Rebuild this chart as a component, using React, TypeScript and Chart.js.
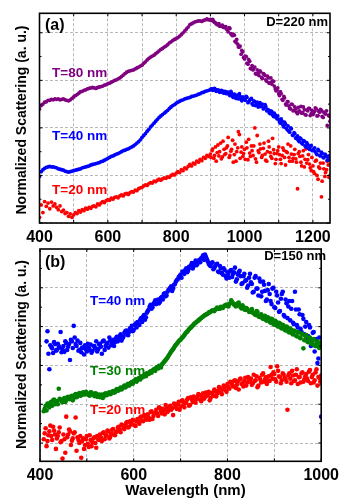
import React, { useEffect, useRef } from "react";
import { Chart, registerables } from "chart.js";
Chart.register(...registerables);

const FONT = "'Liberation Sans', Arial, Helvetica, sans-serif";
const GRID = "#b8b8b8";

// ---------- Panel (a): D = 220 nm ----------
const WL_A = [
  400, 405, 410, 415, 420, 425, 430, 435, 440, 445,
  450, 455, 460, 465, 470, 475, 480, 485, 490, 495,
  500, 505, 510, 515, 520, 525, 530, 535, 540, 545,
  550, 555, 560, 565, 570, 575, 580, 585, 590, 595,
  600, 605, 610, 615, 620, 625, 630, 635, 640, 645,
  650, 655, 660, 665, 670, 675, 680, 685, 690, 695,
  700, 705, 710, 715, 720, 725, 730, 735, 740, 745,
  750, 755, 760, 765, 770, 775, 780, 785, 790, 795,
  800, 805, 810, 815, 820, 825, 830, 835, 840, 845,
  850, 855, 860, 865, 870, 875, 880, 885, 890, 895,
  900, 905, 910, 915, 920, 925, 930, 935, 940, 945,
  950, 955, 960, 965, 970, 975, 980, 985, 990, 995,
  1000, 1005, 1010, 1015, 1020, 1025, 1030, 1035, 1040, 1045,
  1050, 1055, 1060, 1065, 1070, 1075, 1080, 1085, 1090, 1095,
  1100, 1105, 1110, 1115, 1120, 1125, 1130, 1135, 1140, 1145,
  1150, 1155, 1160, 1165, 1170, 1175, 1180, 1185, 1190, 1195,
  1200, 1205, 1210, 1215, 1220, 1225, 1230, 1235, 1240, 1245,
  1250,
];
const A_T80 = [
  2.40, 2.47, 2.50, 2.54, 2.55, 2.58, 2.58, 2.60, 2.59, 2.61,
  2.60, 2.61, 2.59, 2.60, 2.61, 2.59, 2.58, 2.57, 2.59, 2.62,
  2.65, 2.68, 2.70, 2.73, 2.76, 2.77, 2.79, 2.80, 2.82, 2.83,
  2.84, 2.85, 2.84, 2.83, 2.85, 2.86, 2.87, 2.88, 2.90, 2.91,
  2.93, 2.94, 2.96, 2.98, 3.00, 3.01, 3.03, 3.05, 3.08, 3.11,
  3.14, 3.17, 3.19, 3.20, 3.21, 3.22, 3.24, 3.26, 3.28, 3.30,
  3.32, 3.36, 3.39, 3.43, 3.46, 3.49, 3.51, 3.53, 3.56, 3.59,
  3.62, 3.65, 3.67, 3.70, 3.72, 3.75, 3.79, 3.81, 3.84, 3.86,
  3.88, 3.90, 3.93, 3.96, 4.00, 4.04, 4.08, 4.12, 4.17, 4.19,
  4.21, 4.23, 4.24, 4.25, 4.25, 4.24, 4.26, 4.27, 4.29, 4.27,
  4.28, 4.26, 4.24, 4.21, 4.17, 4.19, 4.14, 4.16, 4.11, 4.13,
  4.06, 4.11, 3.98, 3.94, 3.95, 3.80, 3.76, 3.70, 3.55, 3.60,
  3.45, 3.50, 3.34, 3.40, 3.24, 3.22, 3.28, 3.13, 3.16, 3.20,
  3.06, 3.14, 3.10, 2.98, 3.05, 2.95, 2.92, 2.98, 2.82, 2.79,
  2.72, 2.76, 2.60, 2.66, 2.50, 2.55, 2.46, 2.40, 2.49, 2.37,
  2.40, 2.30, 2.36, 2.45, 2.32, 2.38, 2.27, 2.36, 2.41, 2.30,
  2.28, 2.35, 2.40, 2.26, 2.33, 2.37, 2.22, 2.31, 2.36, 2.27,
  2.14,
];
const A_T40 = [
  0.98, 1.08, 1.12, 1.15, 1.17, 1.18, 1.19, 1.18, 1.18, 1.17,
  1.16, 1.14, 1.13, 1.12, 1.11, 1.09, 1.08, 1.07, 1.08, 1.09,
  1.10, 1.11, 1.12, 1.13, 1.14, 1.16, 1.17, 1.18, 1.19, 1.20,
  1.22, 1.23, 1.24, 1.25, 1.26, 1.27, 1.29, 1.30, 1.32, 1.34,
  1.36, 1.38, 1.40, 1.41, 1.43, 1.45, 1.46, 1.48, 1.50, 1.52,
  1.53, 1.55, 1.56, 1.58, 1.60, 1.62, 1.65, 1.68, 1.71, 1.75,
  1.80, 1.84, 1.88, 1.93, 1.97, 2.02, 2.06, 2.10, 2.14, 2.18,
  2.22, 2.25, 2.28, 2.31, 2.34, 2.37, 2.41, 2.44, 2.47, 2.49,
  2.52, 2.54, 2.56, 2.58, 2.59, 2.61, 2.62, 2.63, 2.64, 2.66,
  2.67, 2.68, 2.69, 2.71, 2.72, 2.74, 2.75, 2.77, 2.78, 2.79,
  2.80, 2.82, 2.80, 2.81, 2.78, 2.79, 2.76, 2.78, 2.73, 2.76,
  2.74, 2.70, 2.77, 2.66, 2.71, 2.62, 2.69, 2.72, 2.60, 2.65,
  2.60, 2.66, 2.53, 2.58, 2.62, 2.48, 2.55, 2.50, 2.44, 2.53,
  2.46, 2.40, 2.49, 2.36, 2.38, 2.30, 2.34, 2.24, 2.27, 2.19,
  2.18, 2.10, 2.14, 2.02, 2.08, 1.96, 1.93, 2.00, 1.85, 1.90,
  1.78, 1.83, 1.71, 1.77, 1.66, 1.72, 1.60, 1.65, 1.55, 1.63,
  1.52, 1.58, 1.46, 1.55, 1.42, 1.49, 1.38, 1.45, 1.40, 1.33,
  1.36,
];
const A_T20 = [
  0.12, 0.38, 0.22, 0.45, 0.35, 0.42, 0.30, 0.44, 0.36, 0.40,
  0.33, 0.28, 0.36, 0.24, 0.27, 0.20, 0.22, 0.14, 0.19, 0.12,
  0.17, 0.22, 0.20, 0.26, 0.23, 0.28, 0.26, 0.31, 0.29, 0.33,
  0.31, 0.35, 0.36, 0.34, 0.40, 0.38, 0.42, 0.45, 0.43, 0.47,
  0.49, 0.48, 0.52, 0.50, 0.54, 0.55, 0.53, 0.57, 0.59, 0.57,
  0.61, 0.62, 0.60, 0.64, 0.66, 0.65, 0.69, 0.68, 0.72, 0.74,
  0.75, 0.78, 0.80, 0.79, 0.83, 0.85, 0.84, 0.88, 0.87, 0.90,
  0.92, 0.90, 0.93, 0.95, 0.94, 0.97, 0.96, 1.00, 1.02, 1.01,
  1.05, 1.08, 1.06, 1.12, 1.10, 1.16, 1.14, 1.19, 1.23, 1.20,
  1.26, 1.24, 1.30, 1.28, 1.34, 1.31, 1.38, 1.36, 1.42, 1.40,
  1.45, 1.52, 1.36, 1.60, 1.48, 1.41, 1.68, 1.39, 1.55, 1.46,
  1.62, 1.38, 1.51, 1.74, 1.44, 1.30, 1.58, 1.86, 1.49, 1.40,
  1.55, 1.70, 1.33, 1.47, 1.62, 1.42, 2.00, 1.28, 1.52, 1.66,
  1.38, 1.57, 1.45, 1.30, 1.72, 1.48, 1.36, 1.54, 1.25, 1.46,
  1.60, 1.34, 1.42, 1.53, 1.22, 1.48, 1.38, 1.62, 1.30, 1.44,
  1.35, 0.72, 1.50, 1.28, 1.41, 1.18, 1.56, 1.33, 1.24, 1.10,
  1.20, 1.04, 1.32, 0.92, 1.15, 0.55, 1.26, 0.98, 1.12, 1.22,
  1.00,
];
// second, interleaved read of the noisy long-wavelength part of panel (a)
const WL_A2 = [
  902, 907, 912, 917, 922, 927, 932, 937, 942, 947,
  952, 957, 962, 967, 972, 977, 982, 987, 992, 997,
  1002, 1007, 1012, 1017, 1022, 1027, 1032, 1037, 1042, 1047,
  1052, 1057, 1062, 1067, 1072, 1077, 1082, 1087, 1092, 1097,
  1102, 1107, 1112, 1117, 1122, 1127, 1132, 1137, 1142, 1147,
  1152, 1157, 1162, 1167, 1172, 1177, 1182, 1187, 1192, 1197,
  1202, 1207, 1212, 1217, 1222, 1227, 1232, 1237, 1242, 1247,
];
const A_T80_2 = [
  4.26, 4.28, 4.22, 4.19, 4.18, 4.14, 4.15, 4.12, 4.13, 4.08,
  4.02, 4.09, 3.96, 3.97, 3.82, 3.86, 3.70, 3.72, 3.63, 3.48,
  3.51, 3.36, 3.44, 3.25, 3.31, 3.26, 3.14, 3.22, 3.10, 3.18,
  3.04, 3.13, 3.01, 3.09, 2.94, 3.05, 2.99, 2.88, 2.78, 2.84,
  2.68, 2.72, 2.58, 2.63, 2.48, 2.55, 2.41, 2.50, 2.36, 2.44,
  2.33, 2.43, 2.34, 2.31, 2.44, 2.28, 2.38, 2.41, 2.26, 2.37,
  2.30, 2.42, 2.25, 2.35, 2.39, 2.24, 2.33, 2.29, 2.05, 2.25,
];
const A_T40_2 = [
  2.82, 2.79, 2.83, 2.77, 2.80, 2.75, 2.79, 2.74, 2.77, 2.72,
  2.75, 2.68, 2.73, 2.64, 2.70, 2.67, 2.61, 2.66, 2.57, 2.63,
  2.58, 2.64, 2.55, 2.60, 2.51, 2.57, 2.47, 2.54, 2.49, 2.45,
  2.50, 2.42, 2.45, 2.39, 2.32, 2.36, 2.27, 2.31, 2.22, 2.25,
  2.13, 2.19, 2.06, 2.12, 1.99, 2.04, 1.91, 1.98, 1.84, 1.88,
  1.80, 1.74, 1.79, 1.68, 1.73, 1.62, 1.69, 1.57, 1.61, 1.53,
  1.56, 1.50, 1.44, 1.52, 1.41, 1.46, 1.37, 1.43, 1.32, 1.41,
];
const A_T20_2 = [
  1.38, 1.56, 1.42, 1.30, 1.64, 1.50, 1.35, 1.72, 1.44, 1.58,
  1.80, 1.42, 1.55, 1.28, 1.66, 1.50, 1.92, 1.36, 1.60, 1.46,
  1.34, 1.58, 1.76, 1.40, 1.52, 1.62, 1.35, 1.84, 1.48, 1.56,
  1.42, 1.68, 1.32, 1.50, 1.60, 1.40, 1.78, 1.46, 1.34, 1.52,
  1.44, 1.25, 1.58, 1.38, 1.50, 1.66, 1.30, 1.45, 1.36, 1.55,
  1.28, 1.46, 1.40, 1.20, 1.52, 1.34, 1.26, 1.44, 1.16, 1.38,
  1.08, 1.30, 1.00, 1.18, 1.26, 0.88, 1.14, 1.06, 1.30, 0.96,
];
const XTICKS_A = [400, 500, 600, 700, 800, 900, 1000, 1100, 1200];
const XLABELS_A = [400, 600, 800, 1000, 1200];
const YTICKS_A = [0, 1, 2, 3, 4];

// ---------- Panel (b): D = 150 nm ----------
const WL_B = [
  408, 412, 416, 420, 424, 428, 432, 436, 440, 444,
  448, 452, 456, 460, 464, 468, 472, 476, 480, 484,
  488, 492, 496, 500, 504, 508, 512, 516, 520, 524,
  528, 532, 536, 540, 544, 548, 552, 556, 560, 564,
  568, 572, 576, 580, 584, 588, 592, 596, 600, 604,
  608, 612, 616, 620, 624, 628, 632, 636, 640, 644,
  648, 652, 656, 660, 664, 668, 672, 676, 680, 684,
  688, 692, 696, 700, 704, 708, 712, 716, 720, 724,
  728, 732, 736, 740, 744, 748, 752, 756, 760, 764,
  768, 772, 776, 780, 784, 788, 792, 796, 800, 804,
  808, 812, 816, 820, 824, 828, 832, 836, 840, 844,
  848, 852, 856, 860, 864, 868, 872, 876, 880, 884,
  888, 892, 896, 900, 904, 908, 912, 916, 920, 924,
  928, 932, 936, 940, 944, 948, 952, 956, 960, 964,
  968, 972, 976, 980, 984, 988, 992, 996, 1000,
];
const B_T40 = [
  null, null, 2.88, 1.90, 2.48, 2.32, 2.55, 2.40, 2.50, 2.86,
  2.42, 2.35, 2.58, 2.48, 2.14, 2.62, 3.02, 2.55, 2.64, 2.40,
  2.34, 2.45, 2.52, 2.36, 2.46, 2.54, 2.38, 2.50, 2.62, 2.42,
  2.56, 2.30, 2.64, 2.50, 2.58, 2.72, 2.52, 2.66, 2.60, 2.74,
  2.68, 2.80, 2.70, 2.84, 2.90, 2.78, 2.96, 3.02, 2.92, 3.08,
  3.12, 3.04, 3.22, 3.26, 3.18, 3.36, 3.44, 3.56, 3.50, 3.62,
  3.58, 3.70, 3.64, 3.76, 3.84, 3.78, 3.90, 3.96, 4.04, 3.98,
  4.10, 4.20, 4.28, 4.34, 4.42, 4.36, 4.50, 4.44, 4.52, 4.64,
  4.56, 4.70, 4.62, 4.72, 4.76, 4.84, 4.86, 4.74, 4.62, 4.56,
  4.66, 4.52, 4.60, 4.42, 4.56, 4.38, 4.50, 4.30, 4.40, 4.26,
  4.46, 4.36, 4.52, 4.22, 4.40, 4.30, 4.12, 4.36, 4.20, 4.06,
  4.36, 4.10, 3.90, 4.30, 3.98, 4.24, 3.78, 4.16, 3.92, 3.70,
  4.10, 3.66, 3.98, 3.50, 3.90, 3.62, 3.40, 3.84, 3.30, 3.70,
  3.22, 3.66, 3.46, 3.10, 3.90, 3.04, 3.44, 2.94, 3.30, 2.80,
  3.12, 2.76, 2.98, 2.62, 2.86, 2.50, 2.06, 2.72, 0.68,
];
const B_T30 = [
  0.82, 0.96, 1.02, 0.92, 1.06, 1.10, 1.00, 1.08, 1.40, 1.12,
  1.05, 1.16, 1.10, 1.19, 1.13, 1.22, 1.16, 1.26, 1.20, 1.29,
  1.23, 1.31, 1.26, 1.29, 1.24, 1.31, 1.26, 1.21, 1.27, 1.22,
  1.18, 1.25, 1.20, 1.28, 1.25, 1.31, 1.28, 1.34, 1.31, 1.39,
  1.36, 1.43, 1.41, 1.48, 1.46, 1.53, 1.51, 1.57, 1.59, 1.64,
  1.62, 1.68, 1.72, 1.70, 1.77, 1.80, 1.78, 1.85, 1.87, 1.91,
  1.94, 1.92, 1.98, 2.02, 2.08, 2.14, 2.20, 2.28, 2.36, 2.42,
  2.50, 2.56, 2.62, 2.66, 2.72, 2.78, 2.85, 2.90, 2.96, 3.00,
  3.06, 3.10, 3.14, 3.18, 3.22, 3.26, 3.30, 3.32, 3.36, 3.38,
  3.42, 3.40, 3.45, 3.47, 3.46, 3.50, 3.52, 3.55, 3.53, 3.58,
  3.68, 3.60, 3.55, 3.58, 3.62, 3.50, 3.55, 3.45, 3.48, 3.42,
  3.38, 3.45, 3.35, 3.30, 3.38, 3.25, 3.32, 3.20, 3.28, 3.15,
  3.22, 3.10, 3.18, 3.05, 3.12, 3.00, 3.08, 2.95, 3.02, 2.90,
  2.98, 2.85, 2.92, 2.80, 2.88, 2.75, 2.85, 2.70, 2.80, 2.65,
  2.78, 2.60, 2.72, 2.55, 2.68, 2.50, 2.62, 2.45, 2.60,
];
const B_T20 = [
  0.10, 0.38, 0.05, 0.30, 0.18, 0.42, 0.22, 0.12, 0.28, 0.02,
  -0.40, 0.10, 0.68, 0.22, 0.30, 0.06, 0.25, 0.66, 0.15, 0.00,
  -0.38, 0.12, -0.05, 0.18, -0.10, 0.08, 0.02, 0.15, -0.12, 0.10,
  0.22, 0.05, 0.28, 0.18, 0.32, 0.12, 0.24, 0.36, 0.20, 0.30,
  0.42, 0.28, 0.46, 0.36, 0.52, 0.40, 0.56, 0.48, 0.58, 0.44,
  0.62, 0.50, 0.68, 0.56, 0.72, 0.60, 0.66, 0.80, 0.62, 0.76,
  0.86, 0.70, 0.90, 0.76, 0.84, 0.98, 0.80, 0.94, 0.86, 0.72,
  1.00, 0.88, 1.06, 0.94, 1.10, 0.92, 1.04, 1.16, 0.98, 1.12,
  1.20, 1.04, 1.14, 1.24, 1.08, 1.28, 1.18, 1.22, 1.32, 1.16,
  1.30, 1.38, 1.20, 1.34, 1.42, 1.26, 1.48, 1.36, 1.52, 1.40,
  1.56, 1.46, 1.62, 1.50, 1.38, 1.66, 1.54, 1.60, 1.48, 1.70,
  1.58, 1.50, 1.76, 1.62, 1.44, 1.68, 1.56, 1.80, 1.64, 1.52,
  1.72, 1.96, 1.66, 1.78, 1.58, 1.86, 1.70, 1.62, 1.76, 1.66,
  0.86, 1.80, 1.54, 1.74, 1.62, 1.90, 1.70, 1.56, 1.82, 1.64,
  1.78, 1.60, 1.88, 1.70, 1.56, 1.82, 1.48, 1.68, 1.74,
];
// second, interleaved read of panel (b)
const WL_B2 = [
  410, 414, 418, 422, 426, 430, 434, 438, 442, 446,
  450, 454, 458, 462, 466, 470, 474, 478, 482, 486,
  490, 494, 498, 502, 506, 510, 514, 518, 522, 526,
  530, 534, 538, 542, 546, 550, 554, 558, 562, 566,
  570, 574, 578, 582, 586, 590, 594, 598, 602, 606,
  610, 614, 618, 622, 626, 630, 634, 638, 642, 646,
  650, 654, 658, 662, 666, 670, 674, 678, 682, 686,
  690, 694, 698, 702, 706, 710, 714, 718, 722, 726,
  730, 734, 738, 742, 746, 750, 754, 758, 762, 766,
  770, 774, 778, 782, 786, 790, 794, 798, 802, 806,
  810, 814, 818, 822, 826, 830, 834, 838, 842, 846,
  850, 854, 858, 862, 866, 870, 874, 878, 882, 886,
  890, 894, 898, 902, 906, 910, 914, 918, 922, 926,
  930, 934, 938, 942, 946, 950, 954, 958, 962, 966,
  970, 974, 978, 982, 986, 990, 994, 998,
];
const B_T40_2 = [
  null, 2.62, 2.30, 2.52, 2.44, 2.60, 2.38, 2.56, 2.46, 2.34,
  2.50, 2.62, 2.40, 2.55, 2.66, 2.45, 2.72, 2.50, 2.38, 2.58,
  2.46, 2.28, 2.42, 2.56, 2.40, 2.33, 2.50, 2.44, 2.36, 2.54,
  2.48, 2.62, 2.40, 2.56, 2.46, 2.64, 2.58, 2.50, 2.70, 2.62,
  2.76, 2.64, 2.74, 2.88, 2.80, 2.86, 2.94, 2.88, 3.04, 2.98,
  3.06, 3.18, 3.12, 3.30, 3.24, 3.40, 3.52, 3.46, 3.58, 3.68,
  3.66, 3.60, 3.74, 3.70, 3.86, 3.80, 3.94, 4.00, 3.92, 4.08,
  4.16, 4.22, 4.30, 4.26, 4.38, 4.46, 4.40, 4.54, 4.58, 4.50,
  4.64, 4.58, 4.68, 4.66, 4.78, 4.72, 4.80, 4.68, 4.58, 4.64,
  4.48, 4.56, 4.62, 4.40, 4.50, 4.34, 4.46, 4.24, 4.36, 4.44,
  4.28, 4.40, 4.16, 4.34, 4.44, 4.10, 4.30, 4.18, 4.00, 4.26,
  4.14, 3.88, 4.26, 3.98, 3.80, 4.16, 3.90, 4.08, 3.66, 3.94,
  3.84, 3.58, 4.00, 3.48, 3.80, 3.38, 3.72, 3.90, 3.26, 3.60,
  3.52, 3.16, 3.66, 3.06, 3.44, 2.98, 3.32, 2.86, 3.20, 3.00,
  2.66, 3.04, 2.50, 2.84, 2.36, 2.68, 2.18, 2.48,
];
const B_T30_2 = [
  0.88, 0.84, 0.98, 1.04, 0.96, 1.12, 1.06, 1.00, 1.14, 1.08,
  1.12, 1.06, 1.18, 1.14, 1.20, 1.10, 1.24, 1.18, 1.26, 1.22,
  1.28, 1.25, 1.32, 1.27, 1.22, 1.30, 1.24, 1.28, 1.19, 1.25,
  1.22, 1.16, 1.26, 1.23, 1.29, 1.26, 1.32, 1.30, 1.36, 1.35,
  1.40, 1.38, 1.45, 1.43, 1.50, 1.48, 1.55, 1.53, 1.61, 1.58,
  1.66, 1.64, 1.70, 1.74, 1.72, 1.79, 1.83, 1.81, 1.89, 1.86,
  1.96, 1.99, 1.95, 2.05, 2.11, 2.17, 2.24, 2.32, 2.39, 2.46,
  2.53, 2.59, 2.65, 2.70, 2.75, 2.82, 2.87, 2.93, 2.98, 3.03,
  3.08, 3.12, 3.16, 3.20, 3.24, 3.28, 3.31, 3.34, 3.37, 3.40,
  3.41, 3.44, 3.49, 3.46, 3.51, 3.48, 3.54, 3.57, 3.52, 3.60,
  3.63, 3.57, 3.52, 3.60, 3.54, 3.47, 3.51, 3.43, 3.46, 3.38,
  3.41, 3.36, 3.32, 3.40, 3.27, 3.30, 3.22, 3.26, 3.17, 3.24,
  3.13, 3.20, 3.07, 3.15, 3.02, 3.10, 2.97, 3.05, 2.92, 3.00,
  2.87, 2.95, 2.82, 2.90, 2.77, 2.86, 2.72, 2.82, 2.44, 2.76,
  2.62, 2.70, 2.57, 2.65, 2.52, 2.58, 2.48, 2.55,
];
const B_T20_2 = [
  0.25, -0.08, 0.20, 0.45, 0.08, 0.32, -0.15, 0.18, 0.40, 0.05,
  0.22, -0.25, 0.15, 0.35, -0.05, 0.12, 0.28, -0.20, 0.08, 0.18,
  0.05, -0.15, 0.10, -0.02, 0.20, -0.08, 0.12, 0.00, 0.18, 0.08,
  0.14, 0.26, 0.10, 0.20, 0.30, 0.16, 0.34, 0.22, 0.28, 0.40,
  0.34, 0.48, 0.38, 0.44, 0.54, 0.42, 0.50, 0.60, 0.46, 0.56,
  0.54, 0.66, 0.58, 0.70, 0.64, 0.74, 0.60, 0.82, 0.70, 0.78,
  0.76, 0.92, 0.82, 0.88, 0.74, 0.90, 0.84, 0.96, 0.90, 1.02,
  0.92, 1.00, 0.86, 1.08, 0.98, 1.04, 1.12, 0.96, 1.18, 1.06,
  1.10, 1.18, 1.26, 1.12, 1.20, 1.14, 1.30, 1.24, 1.10, 1.28,
  1.22, 1.34, 1.28, 1.44, 1.30, 1.38, 1.46, 1.32, 1.44, 1.58,
  1.50, 1.60, 1.42, 1.58, 1.64, 1.52, 1.46, 1.68, 1.56, 1.62,
  1.66, 1.54, 1.60, 1.72, 1.48, 1.64, 1.76, 1.58, 1.70, 1.62,
  1.60, 1.76, 1.82, 1.64, 1.98, 1.72, 1.54, 1.80, 1.68, 1.58,
  1.74, 1.66, 1.86, 1.60, 1.76, 1.52, 1.70, 1.80, 1.58, 1.72,
  1.66, 1.84, 1.54, 1.76, 1.62, 1.90, 1.70, 1.58,
];
const XTICKS_B = [400, 500, 600, 700, 800, 900, 1000];
const XLABELS_B = [400, 600, 800, 1000];
const YTICKS_B = [0, 1, 2, 3, 4];

const C_PURPLE = "#800080";
const C_BLUE = "#0000ff";
const C_RED = "#ff0000";
const C_GREEN = "#008000";

type Txt = { text: string; x: number; y: number; color: string; size: number; align: CanvasTextAlign; rot?: boolean };

function pts(xs: number[], ys: (number | null)[]) {
  const out: { x: number; y: number }[] = [];
  xs.forEach((x, i) => {
    const y = ys[i];
    if (y !== null && y !== undefined) out.push({ x, y });
  });
  return out;
}

const decoPlugin = {
  id: "deco",
  afterDraw(chart: any, _args: any, opts: any) {
    const { ctx, chartArea } = chart;
    const { left, right, top, bottom } = chartArea;
    const xs = chart.scales.x;
    const ys = chart.scales.y;
    ctx.save();
    ctx.strokeStyle = "#000";
    ctx.lineWidth = 1;
    ctx.beginPath();
    (opts.xTicks as number[]).forEach((v) => {
      const px = xs.getPixelForValue(v);
      ctx.moveTo(px, bottom);
      ctx.lineTo(px, bottom - 3);
      ctx.moveTo(px, top);
      ctx.lineTo(px, top + 3);
    });
    (opts.yTicks as number[]).forEach((v) => {
      [v, v + 0.5].forEach((w, k) => {
        const py = ys.getPixelForValue(w);
        if (py < top - 0.5 || py > bottom + 0.5) return;
        const len = k === 0 ? 3 : 2;
        ctx.moveTo(left, py);
        ctx.lineTo(left + len, py);
        ctx.moveTo(right, py);
        ctx.lineTo(right - len, py);
      });
    });
    ctx.stroke();
    ctx.lineWidth = 1.6;
    ctx.strokeRect(left, top, right - left, bottom - top);
    (opts.texts as Txt[]).forEach((t) => {
      ctx.save();
      ctx.font = `bold ${t.size}px ${FONT}`;
      ctx.fillStyle = t.color;
      ctx.textAlign = t.align;
      ctx.textBaseline = "middle";
      ctx.translate(t.x, t.y);
      if (t.rot) ctx.rotate(-Math.PI / 2);
      ctx.fillText(t.text, 0, 0);
      ctx.restore();
    });
    ctx.restore();
  },
};

function makeConfig(p: {
  datasets: any[];
  xMin: number; xMax: number; yMin: number; yMax: number;
  xTicks: number[]; xLabels: number[]; yTicks: number[];
  yWidth: number; xHeight: number; padTop: number; padRight: number; labelPad: number;
  texts: Txt[];
}) {
  return {
    type: "scatter" as const,
    data: { datasets: p.datasets },
    options: {
      animation: false as const,
      responsive: false,
      devicePixelRatio: 1,
      events: [],
      layout: { padding: { top: p.padTop, right: p.padRight, left: 0, bottom: 0 } },
      plugins: {
        legend: { display: false },
        tooltip: { enabled: false },
        deco: { xTicks: p.xTicks, yTicks: p.yTicks, texts: p.texts },
      },
      scales: {
        x: {
          type: "linear",
          min: p.xMin,
          max: p.xMax,
          afterBuildTicks: (s: any) => { s.ticks = p.xTicks.map((v) => ({ value: v })); },
          afterFit: (s: any) => { s.height = p.xHeight; },
          grid: { drawTicks: false, color: GRID, lineWidth: 1 },
          border: { display: false, dash: [3, 2] },
          ticks: {
            autoSkip: false,
            maxRotation: 0,
            padding: p.labelPad,
            color: "#000",
            font: { family: FONT, size: 16, weight: "bold" },
            callback: (v: any) => (p.xLabels.includes(Number(v)) ? String(v) : ""),
          },
        },
        y: {
          type: "linear",
          min: p.yMin,
          max: p.yMax,
          afterBuildTicks: (s: any) => { s.ticks = p.yTicks.map((v) => ({ value: v })); },
          afterFit: (s: any) => { s.width = p.yWidth; },
          grid: { drawTicks: false, color: GRID, lineWidth: 1 },
          border: { display: false, dash: [3, 2] },
          ticks: { display: false },
        },
      },
    },
    plugins: [decoPlugin],
  };
}

function dotSet(data: any[], color: string, r: number) {
  return { data, backgroundColor: color, borderColor: color, borderWidth: 0, pointRadius: r, pointHoverRadius: r };
}

export default function App() {
  const refA = useRef<HTMLCanvasElement>(null);
  const refB = useRef<HTMLCanvasElement>(null);
  useEffect(() => {
    const a = new Chart(refA.current as HTMLCanvasElement, makeConfig({
      datasets: [
        dotSet(pts(WL_A, A_T80), C_PURPLE, 1.9),
        dotSet(pts(WL_A2, A_T80_2), C_PURPLE, 1.9),
        dotSet(pts(WL_A, A_T40), C_BLUE, 1.9),
        dotSet(pts(WL_A2, A_T40_2), C_BLUE, 1.9),
        dotSet(pts(WL_A, A_T20), C_RED, 1.9),
        dotSet(pts(WL_A2, A_T20_2), C_RED, 1.9),
      ],
      xMin: 400, xMax: 1250, yMin: 0, yMax: 4.41,
      xTicks: XTICKS_A, xLabels: XLABELS_A, yTicks: YTICKS_A,
      yWidth: 39.5, xHeight: 22, padTop: 13.3, padRight: 14, labelPad: 5,
      texts: [
        { text: "Normalized Scattering (a. u.)", x: 22, y: 120, color: "#000", size: 14, align: "center", rot: true },
        { text: "(a)", x: 45, y: 26, color: "#000", size: 16, align: "left" },
        { text: "D=220 nm", x: 328, y: 22.5, color: "#000", size: 13, align: "right" },
        { text: "T=80 nm", x: 52, y: 73, color: C_PURPLE, size: 13.5, align: "left" },
        { text: "T=40 nm", x: 52, y: 136, color: C_BLUE, size: 13.5, align: "left" },
        { text: "T=20 nm", x: 52, y: 190, color: C_RED, size: 13.5, align: "left" },
      ],
    }) as any);
    const b = new Chart(refB.current as HTMLCanvasElement, makeConfig({
      datasets: [
        dotSet(pts(WL_B, B_T30), C_GREEN, 2.3),
        dotSet(pts(WL_B2, B_T30_2), C_GREEN, 2.3),
        dotSet(pts(WL_B, B_T40), C_BLUE, 2.3),
        dotSet(pts(WL_B2, B_T40_2), C_BLUE, 2.3),
        dotSet(pts(WL_B, B_T20), C_RED, 2.3),
        dotSet(pts(WL_B2, B_T20_2), C_RED, 2.3),
      ],
      xMin: 400, xMax: 1000, yMin: -0.47, yMax: 5.0,
      xTicks: XTICKS_B, xLabels: XLABELS_B, yTicks: YTICKS_B,
      yWidth: 40, xHeight: 38.7, padTop: 4, padRight: 16, labelPad: 5,
      texts: [
        { text: "Normalized Scattering (a. u.)", x: 22.5, y: 109.5, color: "#000", size: 14, align: "center", rot: true },
        { text: "Wavelength (nm)", x: 185.5, y: 245.5, color: "#000", size: 15, align: "center" },
        { text: "(b)", x: 45, y: 18, color: "#000", size: 16, align: "left" },
        { text: "D=150 nm", x: 326, y: 11.7, color: "#000", size: 13, align: "right" },
        { text: "T=40 nm", x: 90, y: 56.7, color: C_BLUE, size: 13.5, align: "left" },
        { text: "T=30 nm", x: 90, y: 126.7, color: C_GREEN, size: 13.5, align: "left" },
        { text: "T=20 nm", x: 90, y: 165, color: C_RED, size: 13.5, align: "left" },
      ],
    }) as any);
    return () => { a.destroy(); b.destroy(); };
  }, []);
  return (
    <div style={{ position: "absolute", left: 0, top: 0, width: 344, height: 500, background: "#fff" }}>
      <canvas ref={refA} width={344} height={245} style={{ position: "absolute", left: 0, top: 0, width: 344, height: 245 }} />
      <canvas ref={refB} width={344} height={255} style={{ position: "absolute", left: 0, top: 245, width: 344, height: 255 }} />
    </div>
  );
}
